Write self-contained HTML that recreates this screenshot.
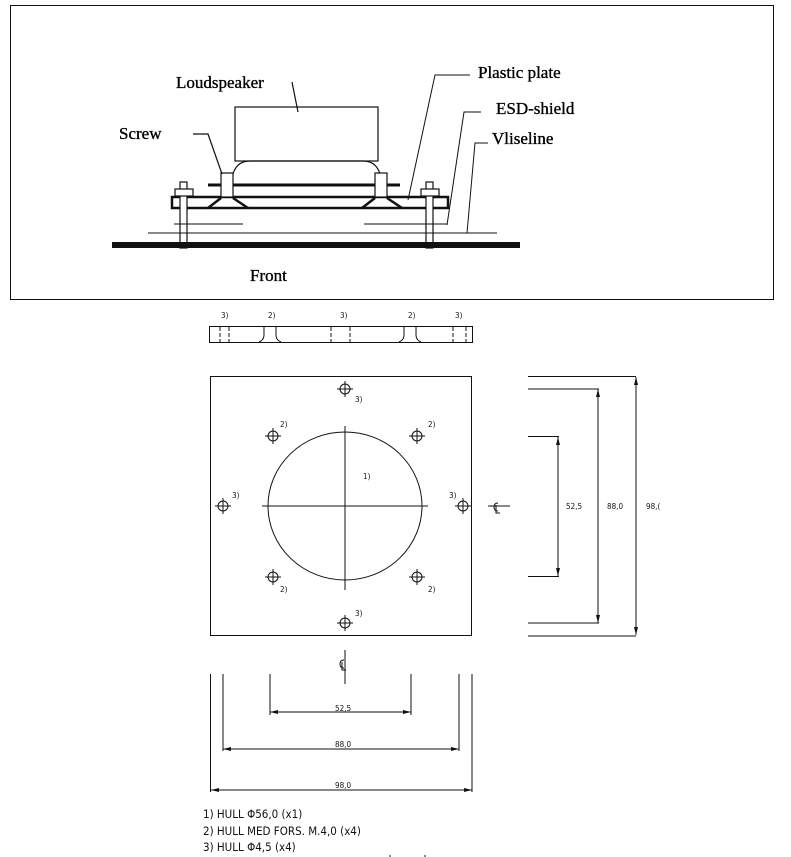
<!DOCTYPE html>
<html><head><meta charset="utf-8"><style>
html,body{margin:0;padding:0;background:#fff;}
svg{display:block;}
.s{font-family:"Liberation Serif",serif;font-size:17px;font-weight:normal;fill:#000;stroke:#000;stroke-width:0.35px;}
.d{font-family:"DejaVu Sans Condensed","DejaVu Sans","Liberation Sans",sans-serif;font-size:8px;fill:#111;}
.n{font-family:"DejaVu Sans Condensed","DejaVu Sans","Liberation Sans",sans-serif;font-size:11.5px;fill:#111;}
</style></head><body>
<svg width="791" height="857" viewBox="0 0 791 857" xmlns="http://www.w3.org/2000/svg">
<defs>
<marker id="a" markerWidth="8" markerHeight="6" refX="8" refY="3" orient="auto" markerUnits="userSpaceOnUse"><path d="M0,1 L8,3 L0,5 z" fill="#111"/></marker>
<marker id="b" markerWidth="8" markerHeight="6" refX="0" refY="3" orient="auto" markerUnits="userSpaceOnUse"><path d="M8,1 L0,3 L8,5 z" fill="#111"/></marker>
<g id="h"><circle r="5" fill="none" stroke="#111" stroke-width="1"/><line x1="-8" y1="0" x2="8" y2="0" stroke="#111"/><line x1="0" y1="-8" x2="0" y2="8" stroke="#111"/></g>
<g id="cl"><path d="M4,-4 Q0,-4 0,0 Q0,4 4,4 M2,-2 V6 H6" fill="none" stroke="#111" stroke-width="1"/></g>
</defs>
<rect x="10.5" y="5.5" width="763" height="294" fill="none" stroke="#111" stroke-width="1"/>
<g stroke="#111" fill="none">
<rect x="235" y="107" width="143" height="54" stroke-width="1.2"/>
<path d="M232,196 L232,178 Q235,161 250,161 L363,161 Q378,161 381,178 L381,196" stroke-width="1.2"/>
<line x1="208" y1="185" x2="400" y2="185" stroke-width="3"/>
<rect x="172" y="197" width="276" height="11" stroke-width="2.5"/>
<path d="M221,198 L208,208 M233,198 L248,208" stroke-width="2.5"/>
<path d="M375,198 L362,208 M387,198 L402,208" stroke-width="2.5"/>
<rect x="221" y="173" width="12" height="24" stroke-width="1.2" fill="#fff"/>
<rect x="375" y="173" width="12" height="24" stroke-width="1.2" fill="#fff"/>
<rect x="180" y="182" width="7" height="66" stroke-width="1.2" fill="#fff"/>
<rect x="175" y="189" width="18" height="7" stroke-width="1.2" fill="#fff"/>
<rect x="426" y="182" width="7" height="66" stroke-width="1.2" fill="#fff"/>
<rect x="421" y="189" width="18" height="7" stroke-width="1.2" fill="#fff"/>
<line x1="174" y1="224" x2="243" y2="224"/>
<line x1="364" y1="224" x2="447" y2="224"/>
<line x1="148" y1="233" x2="497" y2="233"/>
<line x1="112" y1="245" x2="520" y2="245" stroke-width="6"/>
<path d="M292,82 L298,112" stroke-width="1.2"/>
<path d="M193,134 L208,134 L222,174" stroke-width="1.2"/>
<path d="M470,75 L435,75 L408,200"/>
<path d="M481,112 L464,112 L447,225"/>
<path d="M488,143 L475,143 L467,233"/>
</g>
<text class="s" x="176" y="88">Loudspeaker</text>
<text class="s" x="119" y="139">Screw</text>
<text class="s" x="478" y="78">Plastic plate</text>
<text class="s" x="496" y="114">ESD-shield</text>
<text class="s" x="492" y="144">Vliseline</text>
<text class="s" x="250" y="281">Front</text>
<g stroke="#111" fill="none" stroke-width="1">
<rect x="209.5" y="326.5" width="263" height="16"/>
<path d="M220,327v15 M229,327v15 M331,327v15 M350,327v15 M453,327v15 M466,327v15" stroke-dasharray="4,2"/>
<path d="M264,327v8 q0,5 -5,7 M276,327v8 q0,5 5,7 M404,327v8 q0,5 -5,7 M416,327v8 q0,5 5,7" />
</g>
<text class="d" x="221" y="318">3)</text><text class="d" x="268" y="318">2)</text><text class="d" x="340" y="318">3)</text><text class="d" x="408" y="318">2)</text><text class="d" x="455" y="318">3)</text>
<g stroke="#111" fill="none" stroke-width="1">
<rect x="210.5" y="376.5" width="261" height="259"/>
<ellipse cx="345" cy="506" rx="77" ry="74"/>
<line x1="262" y1="506" x2="428" y2="506"/>
<line x1="345" y1="426" x2="345" y2="590"/>
<path d="M528,376.5 H636 M528,389 H599 M528,436.5 H559 M528,576.5 H559 M528,623 H599 M528,636 H636"/>
<line x1="636" y1="377" x2="636" y2="635" marker-start="url(#b)" marker-end="url(#a)"/>
<line x1="598" y1="389" x2="598" y2="623" marker-start="url(#b)" marker-end="url(#a)"/>
<line x1="558" y1="437" x2="558" y2="576" marker-start="url(#b)" marker-end="url(#a)"/>
<path d="M488,506 H510"/>
<path d="M210.5,674 V792 M223,674 V751 M270,674 V715 M411,674 V715 M459,674 V751 M472,674 V792 M345,650 V684"/>
<line x1="270" y1="712" x2="411" y2="712" marker-start="url(#b)" marker-end="url(#a)"/>
<line x1="223" y1="749" x2="459" y2="749" marker-start="url(#b)" marker-end="url(#a)"/>
<line x1="211" y1="790" x2="472" y2="790" marker-start="url(#b)" marker-end="url(#a)"/>
</g>
<use href="#cl" x="494" y="507"/><use href="#cl" x="340" y="664"/>
<use href="#h" x="345" y="389"/><use href="#h" x="223" y="506"/><use href="#h" x="463" y="506"/><use href="#h" x="345" y="623"/>
<use href="#h" x="273" y="436"/><use href="#h" x="417" y="436"/><use href="#h" x="273" y="577"/><use href="#h" x="417" y="577"/>
<text class="d" x="355" y="402">3)</text><text class="d" x="232" y="498">3)</text><text class="d" x="449" y="498">3)</text><text class="d" x="355" y="616">3)</text>
<text class="d" x="280" y="427">2)</text><text class="d" x="428" y="427">2)</text><text class="d" x="280" y="592">2)</text><text class="d" x="428" y="592">2)</text>
<text class="d" x="363" y="479">1)</text>
<text class="d" x="566" y="509">52,5</text><text class="d" x="607" y="509">88,0</text><text class="d" x="646" y="509">98,(</text>
<text class="d" x="335" y="711">52,5</text><text class="d" x="335" y="747">88,0</text><text class="d" x="335" y="788">98,0</text>
<text class="n" x="203" y="818">1) HULL Φ56,0 (x1)</text>
<text class="n" x="203" y="835">2) HULL MED FORS. M.4,0 (x4)</text>
<text class="n" x="203" y="851">3) HULL Φ4,5 (x4)</text>
<path d="M390,855 v2 M425,855 v2" stroke="#111"/>
</svg>
</body></html>
